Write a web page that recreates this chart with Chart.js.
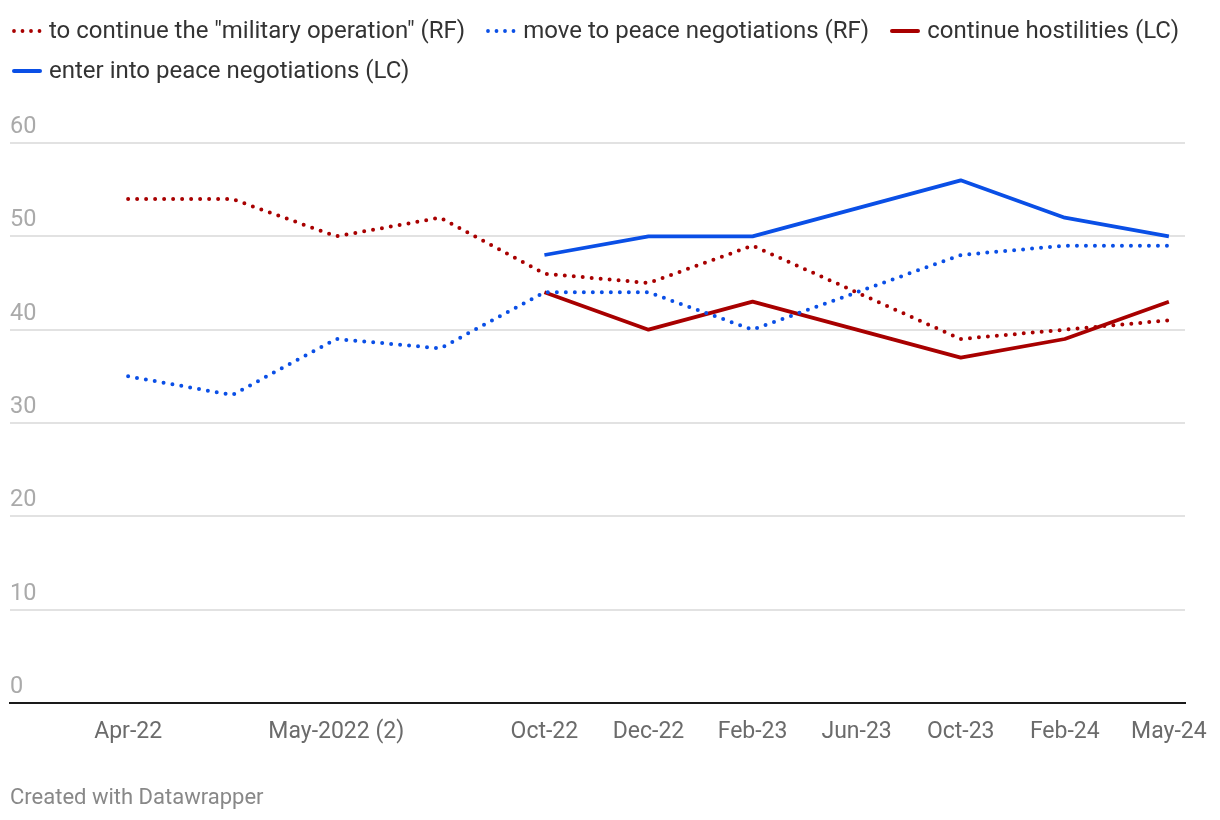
<!DOCTYPE html>
<html>
<head>
<meta charset="utf-8">
<script src="https://cdn.jsdelivr.net/npm/chart.js@4"></script>
<style>
  body { margin: 0; background: #fff; font-family: Roboto, sans-serif; }
  #wrap { position: relative; width: 1220px; height: 820px; }
  #legend {
    position: absolute; left: 12px; top: 16px; width: 1200px;
    display: flex; flex-wrap: wrap; column-gap: 21px; row-gap: 11px;
    font-size: 24px; color: #333; line-height: 29px;
  }
  .item { display: flex; align-items: center; white-space: nowrap; }
  .item svg { margin-right: 7px; }
  #footer {
    position: absolute; left: 10px; top: 784px;
    font-size: 22px; color: #888;
  }
  canvas { position: absolute; left: 0; top: 0; }
</style>
</head>
<body>
<div id="wrap">
  <canvas id="myChart" width="1220" height="820"></canvas>
  <div id="legend"></div>
  <div id="footer">Created with Datawrapper</div>
</div>
<script>
// Survey waves (labels 1 and 3 are hidden on the axis)
const tickLabels = ['Apr-22', '', 'May-2022 (2)', '', 'Oct-22', 'Dec-22', 'Feb-23', 'Jun-23', 'Oct-23', 'Feb-24', 'May-24'];

// Series values
const rfMilitary = [54, 54, 50, 52, 46, 45, 49, 44, 39, 40, 41];
const rfPeace = [35, 33, 39, 38, 44, 44, 40, 44, 48, 49, 49];
const lcHostilities = [null, null, null, null, 44, 40, 43, 40, 37, 39, 43];
const lcPeace = [null, null, null, null, 48, 50, 50, 53, 56, 52, 50];

const yTicks = [0, 10, 20, 30, 40, 50, 60];

const RED = '#a80000';
const BLUE = '#0a4fe6';

const series = [
    { label: 'to continue the "military operation" (RF)', values: rfMilitary, color: RED, dotted: true },
    { label: 'move to peace negotiations (RF)', values: rfPeace, color: BLUE, dotted: true },
    { label: 'continue hostilities (LC)', values: lcHostilities, color: RED, dotted: false },
    { label: 'enter into peace negotiations (LC)', values: lcPeace, color: BLUE, dotted: false },
];

// HTML legend
const legend = document.getElementById('legend');
series.forEach(s => {
    const el = document.createElement('div');
    el.className = 'item';
    const dash = s.dotted ? 'stroke-dasharray="0 8.5" stroke-linecap="round"' : 'stroke-linecap="round"';
    el.innerHTML = `<svg width="30" height="10"><line x1="2" y1="5" x2="28" y2="5" stroke="${s.color}" stroke-width="${s.dotted ? 3.8 : 4}" ${dash}/></svg><span>${s.label}</span>`;
    legend.appendChild(el);
});

const data = {
    datasets: series.map(s => ({
        label: s.label,
        data: s.values.map((v, i) => ({ x: i, y: v })),
        borderColor: s.color,
        backgroundColor: s.color,
        borderWidth: s.dotted ? 4 : 3.8,
        borderDash: s.dotted ? [0, 9] : [],
        borderCapStyle: s.dotted ? 'round' : 'butt',
        borderJoinStyle: 'round',
        pointRadius: 0,
        tension: 0,
        spanGaps: false,
    })),
};

const config = {
    type: 'line',
    data: data,
    options: {
        responsive: false,
        animation: false,
        layout: { padding: { top: 143, left: 10, right: 35, bottom: 57 } },
        plugins: {
            legend: { display: false },
            tooltip: { enabled: false },
        },
        scales: {
            x: {
                type: 'linear',
                min: -1.135,
                max: 10.155,
                grid: { display: false },
                border: { display: true, color: '#1a1a1a', width: 2 },
                afterBuildTicks: function (scale) {
                    scale.ticks = tickLabels.map((t, i) => ({ value: i }));
                },
                afterFit: function (scale) { scale.height = 60; },
                ticks: {
                    autoSkip: false,
                    maxRotation: 0,
                    padding: 7,
                    color: '#6b6b6b',
                    font: { family: 'Roboto', size: 23 },
                    callback: function (value) { return tickLabels[value]; },
                },
            },
            y: {
                min: 0,
                max: 60,
                afterBuildTicks: function (scale) {
                    scale.ticks = yTicks.map(v => ({ value: v }));
                },
                afterFit: function (scale) { scale.width = 0; },
                border: { display: false },
                grid: { color: '#e2e2e2', lineWidth: 2, drawTicks: false },
                ticks: {
                    mirror: true,
                    padding: 0,
                    labelOffset: -16,
                    color: '#aaaaaa',
                    font: { family: 'Roboto', size: 23.5 },
                },
            },
        },
    },
};

const ctx = document.getElementById('myChart').getContext('2d');
const myChart = new Chart(ctx, config);
</script>
</body>
</html>
